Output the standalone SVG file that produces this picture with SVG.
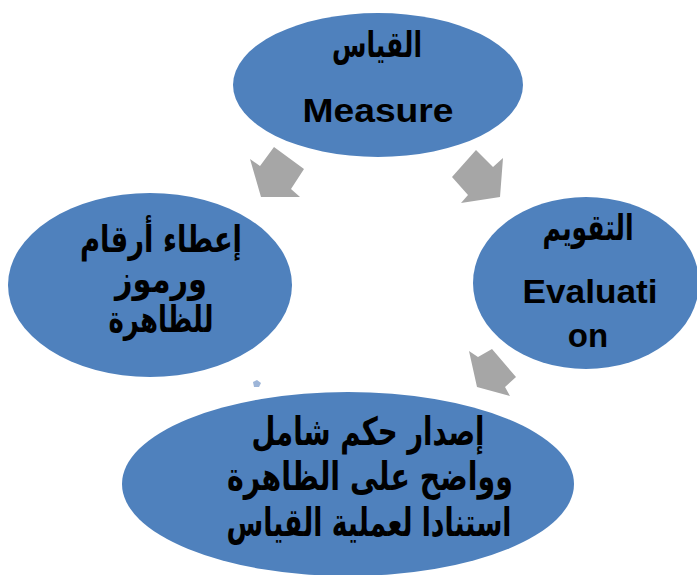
<svg xmlns="http://www.w3.org/2000/svg" width="697" height="575" viewBox="0 0 697 575">
<style>
.node{fill:#4F81BD;}
.arrow{fill:#A6A6A6;}
.ar{font-family:"DejaVu Sans",sans-serif;font-weight:bold;fill:#000;text-anchor:middle;}
.en{font-family:"Liberation Sans",Arial,sans-serif;font-weight:bold;fill:#000;text-anchor:middle;}
</style>
<rect width="697" height="575" fill="#fff"/>
<g id="connectors">
<polygon class="arrow" points="250,159 260,166 274,147 304,169 291,189 300,197 261,197"/>
<polygon class="arrow" points="476,150 493,167 503,158 500,197 461,203 468,195 452,177"/>
<polygon class="arrow" points="469,351 478,357 492,349 516,377 505,387 510,396 477,387"/>
</g>
<g id="node-measure">
<ellipse class="node" cx="378" cy="85" rx="145" ry="72"/>
<text class="ar" x="377" y="57" font-size="36" direction="rtl" textLength="90" lengthAdjust="spacingAndGlyphs">القياس</text>
<text class="en" x="378" y="122" font-size="33" textLength="151" lengthAdjust="spacingAndGlyphs">Measure</text>
</g>
<g id="node-numbers">
<ellipse class="node" cx="150" cy="285" rx="142" ry="92"/>
<text class="ar" x="161" y="252" font-size="37" direction="rtl" textLength="162" lengthAdjust="spacingAndGlyphs">إعطاء أرقام</text>
<text class="ar" x="161" y="292" font-size="37" direction="rtl" textLength="92" lengthAdjust="spacingAndGlyphs">ورموز</text>
<text class="ar" x="161" y="332" font-size="37" direction="rtl" textLength="105" lengthAdjust="spacingAndGlyphs">للظاهرة</text>
</g>
<g id="node-evaluation">
<ellipse class="node" cx="586" cy="283" rx="113" ry="86"/>
<text class="ar" x="588" y="240" font-size="36" direction="rtl" textLength="91" lengthAdjust="spacingAndGlyphs">التقويم</text>
<text class="en" x="590" y="303" font-size="33" textLength="135" lengthAdjust="spacingAndGlyphs">Evaluati</text>
<text class="en" x="588" y="347" font-size="33">on</text>
</g>
<g id="node-judgement">
<ellipse class="node" cx="348" cy="484" rx="226" ry="92"/>
<text class="ar" x="368" y="445" font-size="39" direction="rtl" textLength="233" lengthAdjust="spacingAndGlyphs">إصدار حكم شامل</text>
<text class="ar" x="370" y="490" font-size="39" direction="rtl" textLength="286" lengthAdjust="spacingAndGlyphs">وواضح على الظاهرة</text>
<text class="ar" x="369" y="536" font-size="39" direction="rtl" textLength="285" lengthAdjust="spacingAndGlyphs">استنادا لعملية القياس</text>
</g>
<g id="dot">
<polygon points="253,382 257,380 261,383 259,387 254,387" fill="#9DB5D8"/>
</g>
</svg>
